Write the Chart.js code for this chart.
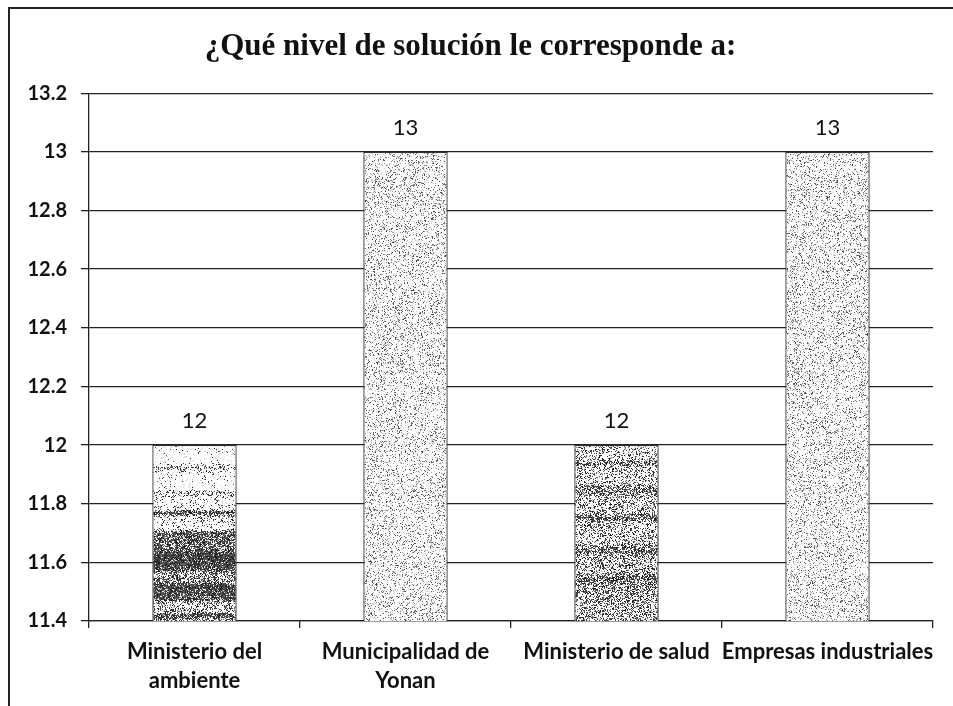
<!DOCTYPE html>
<html>
<head>
<meta charset="utf-8">
<script src="https://cdn.jsdelivr.net/npm/chart.js@4/dist/chart.umd.min.js"></script>
<style>
  html, body { margin: 0; padding: 0; background: #fff; overflow: hidden; }
  #wrap { position: absolute; left: 0; top: 0; width: 953px; height: 706px; }
  #frame { position: absolute; left: 8px; top: 7px; width: 2000px; height: 2000px;
           border-left: 2px solid #222; border-top: 2px solid #222; pointer-events: none; }
</style>
</head>
<body>
<div id="wrap"><canvas id="c" width="953" height="706"></canvas></div>
<div id="frame"></div>
<script>
// ---- data ----
const categories = [["Ministerio del", "ambiente"], ["Municipalidad de", "Yonan"], "Ministerio de salud", "Empresas industriales"];
const values = [12, 13, 12, 13];
const yMin = 11.4;
const yMax = 13.2;
const yStep = 0.2;
const titleText = "¿Qué nivel de solución le corresponde a:";

// ---- stipple textures (styling only) ----
function prng(seed) {
  return function () {
    seed |= 0; seed = seed + 0x6D2B79F5 | 0;
    let t = Math.imul(seed ^ seed >>> 15, 1 | seed);
    t = t + Math.imul(t ^ t >>> 7, 61 | t) ^ t;
    return ((t ^ t >>> 14) >>> 0) / 4294967296;
  };
}
const bandProfiles = [
  [[0,0.03],[0.1,0.05],[0.13,0.35],[0.16,0.05],[0.25,0.05],[0.27,0.4],[0.3,0.08],[0.36,0.1],[0.38,0.8],[0.41,0.15],[0.47,0.1],[0.5,0.75],[0.58,0.6],[0.62,0.9],[0.7,0.85],[0.73,0.45],[0.78,0.5],[0.8,0.85],[0.87,0.8],[0.9,0.3],[0.95,0.35],[0.96,0.8],[1,0.4]],
  null,
  [[0,0.25],[0.08,0.3],[0.1,0.55],[0.13,0.3],[0.2,0.25],[0.26,0.6],[0.29,0.3],[0.38,0.3],[0.41,0.65],[0.44,0.3],[0.55,0.3],[0.6,0.65],[0.63,0.35],[0.72,0.35],[0.76,0.65],[0.8,0.4],[0.88,0.45],[0.92,0.35],[1,0.4]],
  null
];
function densityAt(profile, f) {
  if (!profile) return 0.16;
  for (let i = 1; i < profile.length; i++) {
    if (f <= profile[i][0]) {
      const a = profile[i-1], b = profile[i];
      const t = (f - a[0]) / (b[0] - a[0] || 1);
      return a[1] + (b[1] - a[1]) * t;
    }
  }
  return profile[profile.length-1][1];
}
const patternCache = {};
function barPattern(context) {
  const chart = context.chart;
  const i = context.dataIndex;
  const ys = chart.scales && chart.scales.y;
  if (!ys || ys.top === undefined) return '#bbb';
  const top = Math.round(ys.getPixelForValue(values[i]));
  const bottom = Math.round(ys.getPixelForValue(yMin));
  const h = Math.max(2, bottom - top);
  const key = i + '_' + top + '_' + h;
  if (patternCache[key]) return patternCache[key];
  const w = 96;
  const tile = document.createElement('canvas');
  tile.width = w; tile.height = h;
  const tctx = tile.getContext('2d');
  const img = tctx.createImageData(w, h);
  const rnd = prng(1234 + i * 977);
  const prof = bandProfiles[i];
  for (let y = 0; y < h; y++) {
    const d = densityAt(prof, y / h);
    for (let x = 0; x < w; x++) {
      const r = rnd();
      let v = 255;
      if (r < d) v = prof ? 20 + Math.floor(rnd() * 90) : 60 + Math.floor(rnd() * 110);
      else if (r < d + 0.15) v = 205 + Math.floor(rnd() * 40);
      const p = (y * w + x) * 4;
      img.data[p] = v; img.data[p+1] = v; img.data[p+2] = v; img.data[p+3] = 255;
    }
  }
  tctx.putImageData(img, 0, 0);
  const pat = tctx.createPattern(tile, 'repeat');
  if (pat.setTransform) pat.setTransform(new DOMMatrix().translate(0, top));
  patternCache[key] = pat;
  return pat;
}

// ---- value labels ----
const valueLabels = {
  id: 'valueLabels',
  afterDatasetsDraw(chart) {
    const ctx = chart.ctx;
    const meta = chart.getDatasetMeta(0);
    ctx.save();
    ctx.font = '22px Lato, "Open Sans", sans-serif';
    ctx.fillStyle = '#111';
    ctx.textAlign = 'center';
    ctx.textBaseline = 'bottom';
    meta.data.forEach((el, k) => {
      ctx.fillText(String(values[k]), el.x, el.y - 13);
    });
    ctx.restore();
  }
};

new Chart(document.getElementById('c'), {
  type: 'bar',
  data: {
    labels: categories,
    datasets: [{
      data: values,
      backgroundColor: barPattern,
      borderColor: '#333',
      borderWidth: 1.3,
      barPercentage: 0.4,
      categoryPercentage: 1.0
    }]
  },
  options: {
    responsive: false,
    animation: false,
    events: [],
    layout: { padding: { left: 8, right: 20, top: 0, bottom: 0 } },
    plugins: {
      legend: { display: false },
      tooltip: { enabled: false },
      title: {
        display: true,
        text: titleText,
        color: '#111',
        font: { family: '"Liberation Serif", "DejaVu Serif", serif', size: 31, weight: 'bold', lineHeight: 1.2 },
        padding: { top: 28, bottom: 28 }
      }
    },
    scales: {
      x: {
        offset: true,
        grid: { display: true, offset: true, drawOnChartArea: false, drawTicks: true, tickLength: 7, color: '#222', lineWidth: 1.3 },
        border: { display: true, color: '#222', width: 1.3 },
        ticks: {
          color: '#111',
          font: { family: 'Lato, "Open Sans", sans-serif', size: 22, weight: 'bold', lineHeight: 1.32 },
          padding: 9,
          maxRotation: 0, autoSkip: false
        },
        afterFit(scale) { scale.height = 85; }
      },
      y: {
        min: yMin,
        max: yMax,
        grid: { color: '#222', lineWidth: 1.3, drawTicks: true, tickLength: 8 },
        border: { display: true, color: '#222', width: 1.3 },
        ticks: {
          stepSize: yStep,
          color: '#111',
          font: { family: 'Lato, "Open Sans", sans-serif', size: 20, weight: 'bold' },
          padding: 14,
          callback: (v) => String(Number(Number(v).toFixed(1)))
        },
        afterFit(scale) { scale.width = 81; }
      }
    }
  },
  plugins: [valueLabels]
});
</script>
</body>
</html>
